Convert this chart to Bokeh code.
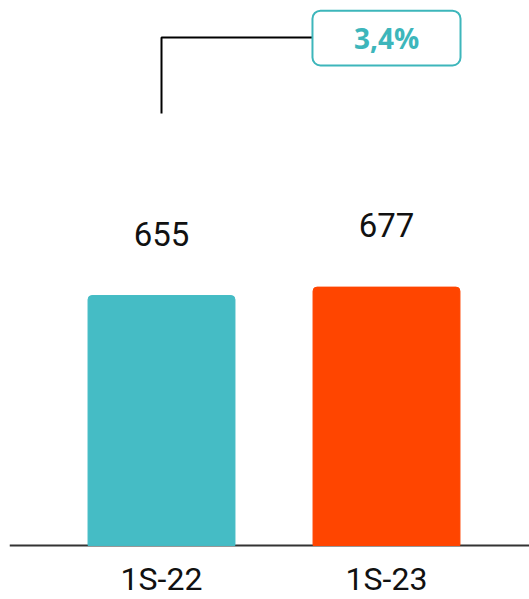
from bokeh.plotting import figure
from bokeh.models import Range1d, ColumnDataSource
from bokeh.embed import file_html
from bokeh.resources import INLINE
from bokeh.core.properties import value

# Half-year totals
categories = ["1S-22", "1S-23"]
values = [655, 677]
bar_colors = ["#45BCC5", "#FF4500"]

growth = (values[1] / values[0] - 1) * 100
growth_label = f"{growth:.1f}".replace(".", ",") + "%"

xs = list(range(len(categories)))
TEAL = "#3DB6BB"
INK = "#111111"

x_lo, x_hi = -0.6756, 1.6356

p = figure(
    width=529, height=599,
    x_range=Range1d(x_lo, x_hi),
    y_range=Range1d(-141.5, 1428),
    output_backend="svg", toolbar_location=None,
    min_border_left=9, min_border_right=0, min_border_top=0, min_border_bottom=0,
)
p.outline_line_color = None
p.xgrid.visible = False
p.ygrid.visible = False
p.xaxis.visible = False
p.yaxis.visible = False
p.background_fill_color = "white"
p.border_fill_color = "white"

src = ColumnDataSource(dict(x=xs, top=values, color=bar_colors,
                            label=[str(v) for v in values], cat=categories,
                            zero=[0] * len(xs)))

# Baseline across the whole plot
p.line(x=[x_lo, x_hi], y=[0, 0], line_color="#333333", line_width=2)

p.vbar(x="x", top="top", bottom=0, width=0.653, color="color", source=src,
       border_radius=[4, 4, 0, 0])

# Value labels above the bars
p.text(x="x", y="top", text="label", source=src, y_offset=-62,
       text_align="center", text_baseline="middle",
       text_font=value("Roboto"), text_font_size="33px", text_color=INK)

# Category labels under the baseline
p.text(x="x", y="zero", text="cat", source=src, y_offset=34,
       text_align="center", text_baseline="middle",
       text_font=value("Roboto"), text_font_size="32px", text_color=INK)

# Growth bracket from the first bar to the badge above the second
bracket_low = max(values) * 1.672
bracket_high = max(values) * 1.966
badge_left = xs[1] - 0.329
badge_right = xs[1] + 0.329
p.line(x=[xs[0], xs[0], badge_left], y=[bracket_low, bracket_high, bracket_high],
       line_color="black", line_width=2)

badge_top = max(values) * 2.07
badge_bottom = max(values) * 1.858
p.quad(left=[badge_left], right=[badge_right], top=[badge_top], bottom=[badge_bottom],
       fill_color="white", line_color=TEAL, line_width=2, border_radius=8)
p.text(x=[xs[1]], y=[(badge_top + badge_bottom) / 2], text=[growth_label],
       text_align="center", text_baseline="middle",
       text_font=value("Open Sans"), text_font_style="bold",
       text_font_size="28px", text_color=TEAL)

open("out.html", "w").write(file_html(p, INLINE))
